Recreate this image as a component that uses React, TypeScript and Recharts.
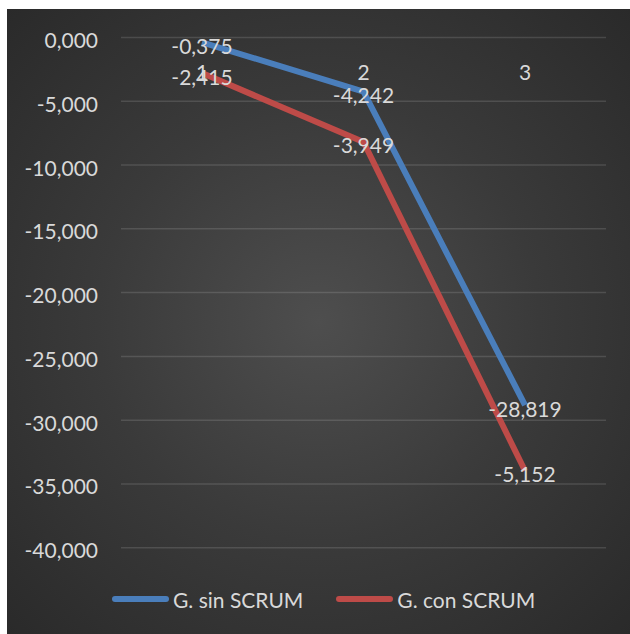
import React from 'react';
import { ComposedChart, Area, XAxis, YAxis, CartesianGrid, Legend, LabelList } from 'recharts';

const categories = ['1', '2', '3'];
const sinScrum = [-0.375, -4.242, -28.819];
const conScrum = [-2.415, -3.949, -5.152];
const yTicks = [0, -5, -10, -15, -20, -25, -30, -35, -40];
const seriesNames = ['G. sin SCRUM', 'G. con SCRUM'];
const seriesColors = ['#4A7EBB', '#BE4B48'];

const data = categories.map((c, i) => ({ cat: c, sin: sinScrum[i], con: conScrum[i] }));

const fmt = (v: number) => v.toFixed(3).replace('.', ',');
const FONT = 'Lato, "Open Sans", sans-serif';
const TXT = '#d9d9d9';
const FS = 21;

const XTick = (p: any) => (
  <text x={p.x} y={p.y} dy={34} textAnchor="middle" dominantBaseline="central" fill={TXT} fontSize={FS} fontFamily={FONT}>
    {p.payload.value}
  </text>
);

const YTick = (p: any) => (
  <text x={p.x} y={p.y} dy={2} textAnchor="end" dominantBaseline="central" fill={TXT} fontSize={FS} fontFamily={FONT}>
    {fmt(Number(p.payload.value))}
  </text>
);

const makeLabel = (values: number[]) => (p: any) => {
  const v = values[p.index];
  if (v === undefined || p.x == null || p.y == null) return null;
  return (
    <text x={p.x} y={p.y} dy={3} textAnchor="middle" dominantBaseline="central" fill={TXT} fontSize={FS} fontFamily={FONT}>
      {fmt(v)}
    </text>
  );
};

const LegendContent = () => (
  <div style={{ display: 'flex', alignItems: 'center', height: 24, marginLeft: 105, fontFamily: FONT, fontSize: FS, color: TXT, whiteSpace: 'nowrap' }}>
    {seriesNames.map((n, i) => (
      <div key={n} style={{ display: 'flex', alignItems: 'center', marginRight: 33 }}>
        <span style={{ display: 'inline-block', width: 57, height: 6, borderRadius: 3, background: seriesColors[i], marginRight: 4 }} />
        {n}
      </div>
    ))}
  </div>
);

export default function App() {
  return (
    <div
      style={{
        position: 'absolute',
        left: 7,
        top: 9,
        width: 623,
        height: 625,
        background: 'radial-gradient(circle farthest-corner at 50% 50%, #4e4e4e 0%, #3a3a3a 50%, #2a2a2a 100%)',
      }}
    >
      <ComposedChart width={623} height={625} data={data} margin={{ top: 27.5, right: 24, bottom: 86.3, left: 0 }}>
        <CartesianGrid vertical={false} stroke="rgba(255,255,255,0.13)" strokeWidth={1.5} />
        <XAxis
          dataKey="cat"
          orientation="top"
          height={1}
          axisLine={false}
          tickLine={false}
          tickSize={0}
          tickMargin={0}
          tick={<XTick />}
          interval={0}
          padding={{ left: 81, right: 81 }}
        />
        <YAxis
          type="number"
          domain={[-40, 0]}
          ticks={yTicks}
          width={114}
          axisLine={false}
          tickLine={false}
          tickSize={0}
          tickMargin={23}
          tick={<YTick />}
          interval={0}
        />
        <Area
          type="linear"
          dataKey="sin"
          name={seriesNames[0]}
          stackId="a"
          stroke={seriesColors[0]}
          strokeWidth={6}
          fill="none"
          fillOpacity={0}
          strokeLinejoin="round"
          isAnimationActive={false}
          dot={false}
          activeDot={false}
        >
          <LabelList dataKey="sin" content={makeLabel(sinScrum)} />
        </Area>
        <Area
          type="linear"
          dataKey="con"
          name={seriesNames[1]}
          stackId="a"
          stroke={seriesColors[1]}
          strokeWidth={6}
          fill="none"
          fillOpacity={0}
          strokeLinejoin="round"
          isAnimationActive={false}
          dot={false}
          activeDot={false}
        >
          <LabelList dataKey="con" content={makeLabel(conScrum)} />
        </Area>
        <Legend
          verticalAlign="middle"
          align="center"
          layout="horizontal"
          content={<LegendContent />}
          wrapperStyle={{ top: 578, left: 0, width: 623, height: 24 }}
        />
      </ComposedChart>
    </div>
  );
}
